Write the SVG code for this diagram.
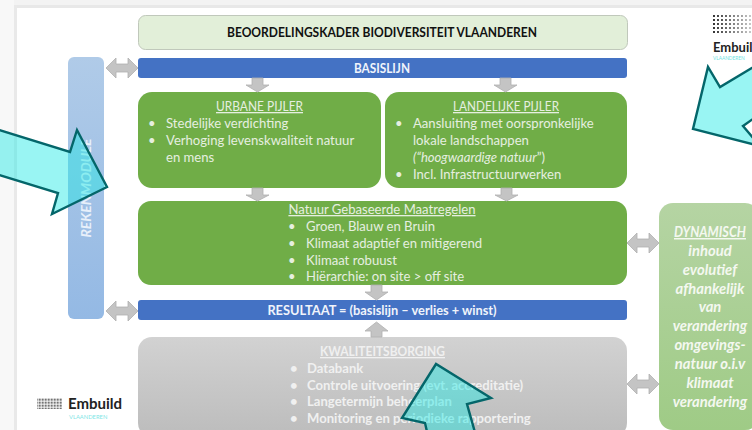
<svg xmlns="http://www.w3.org/2000/svg" width="752" height="430" viewBox="0 0 752 430">
<defs>
<linearGradient id="grey" x1="0" y1="0" x2="0" y2="1"><stop offset="0" stop-color="#d2d2d2"/><stop offset="1" stop-color="#bcbcbc"/></linearGradient>
<linearGradient id="lblue" x1="0" y1="0" x2="0" y2="1"><stop offset="0" stop-color="#b0cbe8"/><stop offset="1" stop-color="#94b9e4"/></linearGradient>
<linearGradient id="lgreen" x1="0" y1="0" x2="0" y2="1"><stop offset="0" stop-color="#b5d4a3"/><stop offset="1" stop-color="#9fcb86"/></linearGradient>
<linearGradient id="fade" x1="0" y1="0" x2="1" y2="0"><stop offset="0" stop-color="#fff" stop-opacity="1"/><stop offset="1" stop-color="#fff" stop-opacity=".25"/></linearGradient>
<mask id="fadeMask"><rect x="713" y="15" width="39" height="20" fill="url(#fade)"/></mask>
<pattern id="dots" x="713" y="15" width="4" height="4" patternUnits="userSpaceOnUse"><rect width="2" height="2" fill="#333"/></pattern>
<pattern id="dots2" width="1.5" height="1.5" patternUnits="userSpaceOnUse"><rect width="0.9" height="0.9" fill="#444"/></pattern>
</defs>
<style>
text{font-family:"Lato","Carlito","Liberation Sans",sans-serif}
.w{fill:#e6efe0;font-size:13.1px}
.c{text-anchor:middle}
.u{text-decoration:underline}
.b{font-weight:700}
.g{fill:#f0f0f0;font-size:13.1px;font-weight:700}
.d{fill:#f4f8f0;font-size:14.8px;font-weight:700;font-style:italic;text-anchor:middle}
.conn{fill:#c4c4c4;stroke:#b0b0b0;stroke-width:.8}
.big{fill:#1de9e5;fill-opacity:.45;stroke:#04666a;stroke-width:2.4;stroke-linejoin:miter}
</style>
<rect width="752" height="430" fill="#fff"/>
<rect width="752" height="5" fill="#f3f3f3"/>
<rect y="5" width="752" height="3" fill="#e8e8e8"/>
<rect width="14" height="430" fill="#f8f8f8"/>
<rect x="14" y="5" width="3" height="425" fill="#e9e9e9"/>

<g id="titel"><rect x="138.500" y="15.500" width="489" height="34" rx="7" fill="#e2efd9" stroke="#c0c8bb"/>
<text x="382" y="37" class="c b" font-size="13" fill="#111" textLength="310" lengthAdjust="spacingAndGlyphs">BEOORDELINGSKADER BIODIVERSITEIT VLAANDEREN</text></g>

<g id="rekenmodule"><rect x="68" y="57" width="36" height="262" rx="6" fill="url(#lblue)"/>
<text transform="translate(91 188) rotate(-90)" class="c b" font-size="14" font-style="italic" fill="#e8f0fa">REKENMODULE</text></g>

<g id="basislijn"><rect x="138" y="58" width="489" height="20" rx="3" fill="#4472c4"/>
<text x="382" y="73" class="c b" font-size="12.600" fill="#f0f4fb" textLength="56" lengthAdjust="spacingAndGlyphs">BASISLIJN</text></g>

<g id="urbane"><rect x="138" y="92" width="243" height="96" rx="14" fill="#70ad47"/>
<text x="259.500" y="111" class="w c u" textLength="87" lengthAdjust="spacingAndGlyphs">URBANE PIJLER</text>
<text x="148" y="128" class="w">•</text><text x="166" y="128" class="w">Stedelijke verdichting</text>
<text x="148" y="145" class="w">•</text><text x="166" y="145" class="w">Verhoging levenskwaliteit natuur</text>
<text x="166" y="162" class="w">en mens</text></g>

<g id="landelijke"><rect x="385" y="92" width="242" height="96" rx="14" fill="#70ad47"/>
<text x="506" y="111" class="w c u" textLength="106" lengthAdjust="spacingAndGlyphs">LANDELIJKE PIJLER</text>
<text x="395" y="128" class="w">•</text><text x="413" y="128" class="w">Aansluiting met oorspronkelijke</text>
<text x="413" y="145" class="w">lokale landschappen</text>
<text x="413" y="162" class="w"><tspan font-style="italic">(“hoogwaardige natuur</tspan>”)</text>
<text x="395" y="179" class="w">•</text><text x="413" y="179" class="w">Incl. Infrastructuurwerken</text></g>

<g id="maatregelen"><rect x="138" y="201" width="489" height="84" rx="13" fill="#70ad47"/>
<text x="382" y="214" class="w c u">Natuur Gebaseerde Maatregelen</text>
<text x="288" y="231" class="w">•</text><text x="306" y="231" class="w">Groen, Blauw en Bruin</text>
<text x="288" y="248" class="w">•</text><text x="306" y="248" class="w">Klimaat adaptief en mitigerend</text>
<text x="288" y="265" class="w">•</text><text x="306" y="265" class="w">Klimaat robuust</text>
<text x="288" y="281" class="w">•</text><text x="306" y="281" class="w">Hiërarchie: on site &gt; off site</text></g>

<g id="resultaat"><rect x="138" y="300" width="489" height="20" rx="3" fill="#4472c4"/>
<text x="382" y="315" class="c b" font-size="12.800" fill="#f0f4fb">RESULTAAT = (basislijn – verlies + winst)</text></g>

<g id="kwaliteit"><rect x="138" y="337" width="489" height="100" rx="14" fill="url(#grey)"/>
<text x="382.500" y="356" class="g c u" textLength="125" lengthAdjust="spacingAndGlyphs">KWALITEITSBORGING</text>
<text x="290" y="373" class="g">•</text><text x="307" y="373" class="g">Databank</text>
<text x="290" y="390" class="g">•</text><text x="307" y="390" class="g">Controle uitvoering (evt. accreditatie)</text>
<text x="290" y="406" class="g">•</text><text x="307" y="406" class="g">Langetermijn beheerplan</text>
<text x="290" y="423" class="g">•</text><text x="307" y="423" class="g">Monitoring en periodieke rapportering</text></g>

<g id="dynamisch"><rect x="659" y="203" width="100" height="227" rx="14" fill="url(#lgreen)"/>
<text x="710" y="237" class="d u" textLength="72" lengthAdjust="spacingAndGlyphs">DYNAMISCH</text>
<text x="710" y="256" class="d">inhoud</text>
<text x="710" y="275" class="d">evolutief</text>
<text x="710" y="294" class="d">afhankelijk</text>
<text x="710" y="312" class="d">van</text>
<text x="710" y="331" class="d">verandering</text>
<text x="710" y="350" class="d">omgevings-</text>
<text x="710" y="369" class="d">natuur o.i.v</text>
<text x="710" y="388" class="d">klimaat</text>
<text x="710" y="407" class="d">verandering</text></g>

<g id="connectors">
<path class="conn" d="M252 78h11v7h6l-11.500 7-11.500-7h6z"/>
<path class="conn" d="M500 78h11v7h6l-11.500 7-11.500-7h6z"/>
<path class="conn" d="M252 188h11v7h6l-11.500 6-11.500-6h6z"/>
<path class="conn" d="M501 188h11v7h6l-11.500 6-11.500-6h6z"/>
<path class="conn" d="M371 285h11v7h6l-11.500 8-11.500-8h6z"/>
<path class="conn" d="M371 337v-6h-6l11.500-9 11.500 9h-6v6z"/>
<path class="conn" d="M106 68l10-10v6h12v-6l10 10-10 10v-6h-12v6z"/>
<path class="conn" d="M106 311l10-10v6h12v-6l10 10-10 10v-6h-12v6z"/>
<path class="conn" d="M627 243l10-10v6h12v-6l10 10-10 10v-6h-12v6z"/>
<path class="conn" d="M627 384l10-10v6h12v-6l10 10-10 10v-6h-12v6z"/>
</g>

<g id="logo-top"><rect x="713" y="15" width="39" height="20" fill="url(#dots)" mask="url(#fadeMask)"/>
<text x="713" y="52" class="b" font-size="13" fill="#222">Embuild</text>
<text x="713" y="60" font-size="4.800" fill="#6fe3e3">VLAANDEREN</text></g>
<g id="logo-bottom"><rect x="37" y="398" width="25" height="11" fill="url(#dots2)"/>
<text x="68" y="409" class="b" font-size="15" fill="#222">Embuild</text>
<text x="69" y="419" font-size="5.800" fill="#7fe6e6">VLAANDEREN</text></g>

<g id="pijlen">
<path class="big" d="M-4 129L70 152 77 130 107 187 52 214 58 193-4 174z"/>
<path class="big" d="M760 63L720 87 708 67 693 129 760 146 743 126 760 114z"/>
<path class="big" d="M428 436L425 423 402 418 436 364 491 398 467 404 476 436z"/>
</g>
</svg>
